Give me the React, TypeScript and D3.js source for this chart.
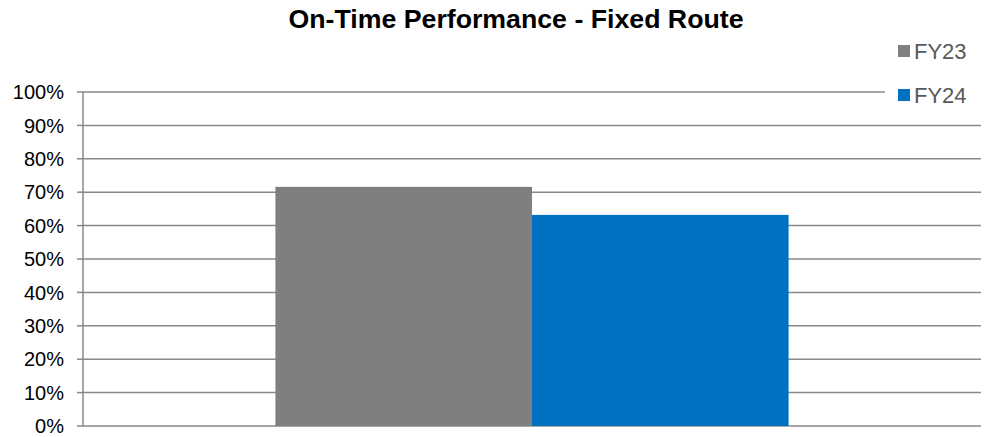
import React from "react";
import * as d3 from "d3";

const categories = ["On-Time Performance"];
const seriesNames = ["FY23", "FY24"];
const seriesColors = ["#7f7f7f", "#0070c0"];
const seriesValues = [[0.716], [0.632]];
const yTicks = [0, 0.1, 0.2, 0.3, 0.4, 0.5, 0.6, 0.7, 0.8, 0.9, 1.0];

const W = 995;
const H = 437;
const M = { left: 83, right: 14, top: 92, bottom: 11 };

export default function App() {
  const x0 = d3.scaleBand().domain(categories).range([M.left, W - M.right]).paddingInner(0).paddingOuter(0);
  const y = d3.scaleLinear().domain([0, 1]).range([H - M.bottom, M.top]);
  const groupW = x0.bandwidth() / (1 + 1.5 / 2);
  const x1 = d3.scaleBand().domain(seriesNames).range([0, groupW]);
  const gOffset = (x0.bandwidth() - groupW) / 2;
  const fmt = d3.format(".0%");
  const font = "'Liberation Sans', Arial, sans-serif";

  return (
    <svg width={W} height={H} style={{ position: "absolute", left: 0, top: 0, background: "#fff" }} fontFamily={font}>
      <text x={516} y={28} textAnchor="middle" fontSize={25} fontWeight="bold" fill="#000" textLength={455} lengthAdjust="spacingAndGlyphs">
        On-Time Performance - Fixed Route
      </text>
      {yTicks.map((t) => (
        <g key={t}>
          <line x1={M.left} x2={t === 1 ? 885 : W - M.right} y1={y(t)} y2={y(t)} stroke="#898989" strokeWidth={1.5} />
          <line x1={M.left - 6} x2={M.left} y1={y(t)} y2={y(t)} stroke="#898989" strokeWidth={1.5} />
          <text x={64} y={y(t)} dy="0.36em" textAnchor="end" fontSize={20} fill="#000">
            {fmt(t)}
          </text>
        </g>
      ))}
      <line x1={M.left} x2={M.left} y1={y(0)} y2={y(1)} stroke="#898989" strokeWidth={1.5} />
      {categories.map((c, ci) =>
        seriesNames.map((s, si) => {
          const v = seriesValues[si][ci];
          return (
            <rect
              key={c + s}
              x={(x0(c) as number) + gOffset + (x1(s) as number)}
              y={y(v)}
              width={x1.bandwidth()}
              height={y(0) - y(v)}
              fill={seriesColors[si]}
            />
          );
        })
      )}
      {seriesNames.map((s, si) => (
        <g key={s} transform={`translate(898, ${45 + si * 44})`}>
          <rect x={0} y={0} width={12} height={12} fill={seriesColors[si]} />
          <text x={16} y={13.5} fontSize={22} fill="#595959">
            {s}
          </text>
        </g>
      ))}
    </svg>
  );
}
